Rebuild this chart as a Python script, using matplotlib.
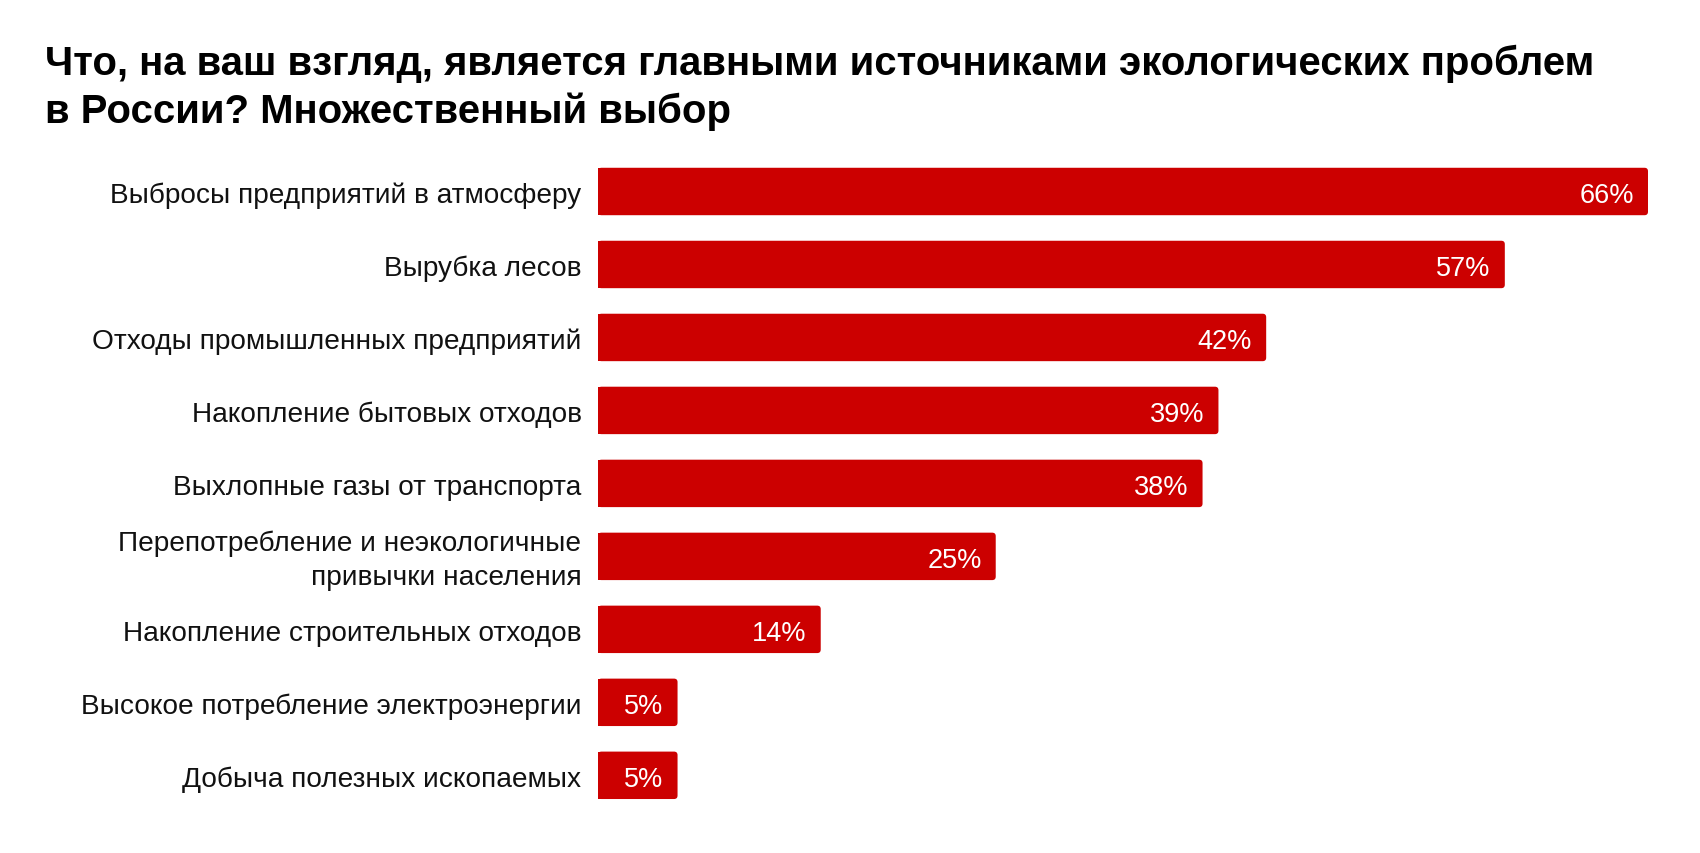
import matplotlib
matplotlib.use("Agg")
import matplotlib.pyplot as plt
from matplotlib.patches import FancyBboxPatch, Rectangle
from matplotlib.transforms import offset_copy

plt.rcParams['font.family'] = ['Liberation Sans', 'DejaVu Sans']

title_lines = ["Что, на ваш взгляд, является главными источниками экологических проблем",
               "в России? Множественный выбор"]
categories = [
    "Выбросы предприятий в атмосферу",
    "Вырубка лесов",
    "Отходы промышленных предприятий",
    "Накопление бытовых отходов",
    "Выхлопные газы от транспорта",
    "Перепотребление и неэкологичные\nпривычки населения",
    "Накопление строительных отходов",
    "Высокое потребление электроэнергии",
    "Добыча полезных ископаемых",
]
values = [66, 57, 42, 39, 38, 25, 14, 5, 5]
value_labels = ["66%", "57%", "42%", "39%", "38%", "25%", "14%", "5%", "5%"]

W, H = 1700, 854
fig = plt.figure(figsize=(W / 100, H / 100), dpi=100)
fig.patch.set_facecolor("white")

ax_left, ax_right = 598 / W, 1648 / W
ax_top, ax_bot = 1 - 156 / H, 1 - 812.8 / H
ax = fig.add_axes([ax_left, ax_bot, ax_right - ax_left, ax_top - ax_bot])

color = "#cc0000"
bar_h = 0.65
ypos = list(range(len(categories)))
bars = ax.barh(ypos, values, height=bar_h, color="none", edgecolor="none")

ax.set_xlim(0, 66)
ax.set_ylim(len(categories) - 0.5, -0.5)

# rounded right corners
px_per_x = (1648 - 598) / 66.0
px_per_y = (812.8 - 156) / len(categories)
r_px = 3.5
rx = r_px / px_per_x
aspect = (r_px / px_per_y) / rx
for b in bars:
    x0, y0, w, h = b.get_x(), b.get_y(), b.get_width(), b.get_height()
    p = FancyBboxPatch((x0, y0), w, h,
                       boxstyle=f"round,pad=0,rounding_size={rx}",
                       mutation_aspect=aspect, facecolor=color, edgecolor="none",
                       linewidth=0)
    ax.add_patch(p)
    ax.add_patch(Rectangle((x0, y0), min(w / 2, 2 * rx), h, facecolor=color,
                           edgecolor="none", linewidth=0))

ax.set_xticks([])
ax.set_yticks([])
for s in ax.spines.values():
    s.set_visible(False)

label_fs = 20.2
value_fs = 19.5
label_pad = 16.5 / px_per_x
for y, cat in zip(ypos, categories):
    n = cat.count("\n") + 1
    dy = -10.3 - 17 * (n - 1)   # baseline of last line relative to bar centre
    tr = offset_copy(ax.transData, fig=fig, x=0, y=dy, units="dots")
    ax.text(-label_pad, y, cat, ha="right", va="baseline", ma="right",
            fontsize=label_fs, color="#111111", linespacing=1.4,
            transform=tr, clip_on=False)

pad_x = 14 / px_per_x
vtrans = offset_copy(ax.transData, fig=fig, x=0, y=-10.3, units="dots")
for y, v, lab in zip(ypos, values, value_labels):
    ax.text(v - pad_x, y, lab, ha="right", va="baseline", color="white",
            fontsize=value_fs, transform=vtrans)

fig.text(45 / W, 1 - 75 / H, title_lines[0], fontsize=28.9, fontweight="bold",
         ha="left", va="baseline", color="black")
fig.text(45 / W, 1 - 123 / H, title_lines[1], fontsize=28.9, fontweight="bold",
         ha="left", va="baseline", color="black")

fig.savefig("out.png", dpi=100, facecolor="white")
